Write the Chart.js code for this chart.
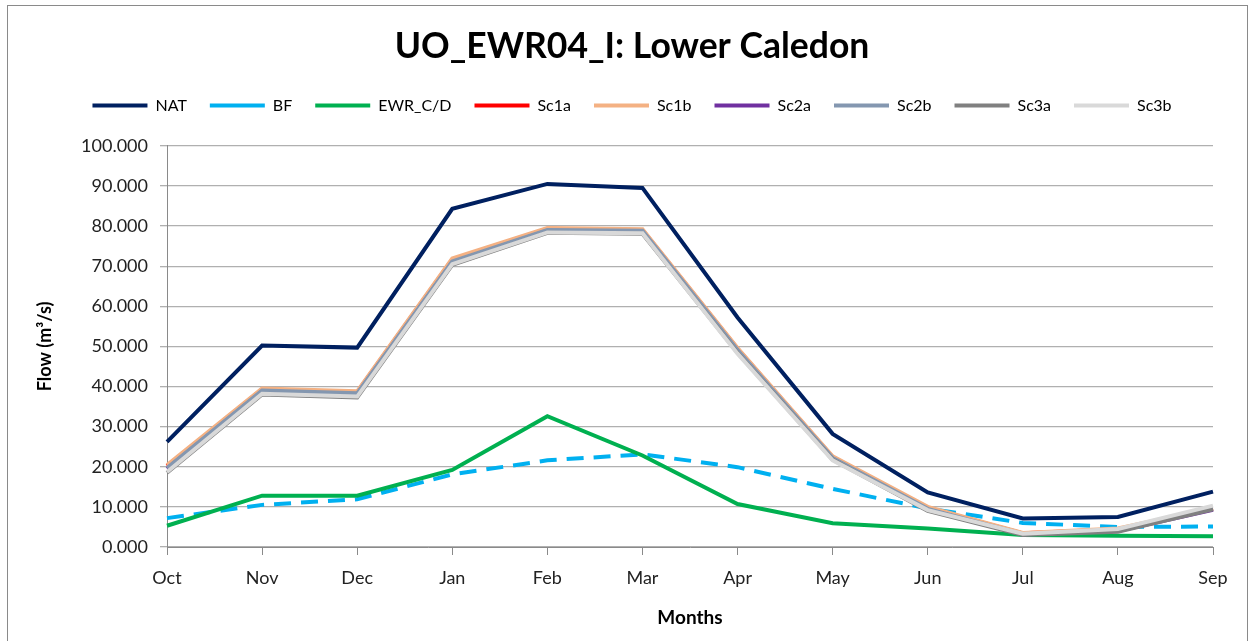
<!DOCTYPE html>
<html>
<head>
<meta charset="utf-8">
<script src="https://cdn.jsdelivr.net/npm/chart.js@4/dist/chart.umd.min.js"></script>
<style>
  html, body { margin: 0; padding: 0; background: #fff; overflow: hidden; }
  #wrap { position: absolute; left: 0; top: 0; width: 1252px; height: 641px; }
  #frame { position: absolute; left: 7px; top: 5px; width: 1241px; height: 700px; border: 1.5px solid #8a8a8a; box-sizing: border-box; pointer-events: none; }
  canvas { position: absolute; left: 0; top: 0; }
</style>
</head>
<body>
<div id="wrap">
  <canvas id="c" width="1252" height="641"></canvas>
  <div id="frame"></div>
</div>
<script>
const months = ['Oct','Nov','Dec','Jan','Feb','Mar','Apr','May','Jun','Jul','Aug','Sep'];
const NAT    = [26.2, 50.2, 49.7, 84.3, 90.5, 89.5, 57.2, 28.2, 13.6, 7.1, 7.5, 13.8];
const BF     = [7.2, 10.5, 11.9, 18.1, 21.6, 23.1, 19.9, 14.5, 9.6, 6.0, 5.0, 5.1];
const EWR_CD = [5.3, 12.8, 12.8, 19.2, 32.6, 22.8, 10.7, 5.9, 4.6, 3.0, 2.8, 2.7];
const Sc1a   = [20.2, 39.3, 38.6, 71.7, 79.3, 79.0, 49.4, 22.4, 9.8, 3.4, 4.4, 9.5];
const Sc1b   = [20.4, 39.5, 38.8, 71.9, 79.5, 79.2, 49.6, 22.6, 10.0, 3.5, 4.6, 9.7];
const Sc2a   = [19.5, 38.8, 38.1, 71.0, 78.8, 78.6, 48.9, 22.0, 9.3, 3.1, 4.0, 9.3];
const Sc2b   = [19.7, 39.0, 38.3, 71.2, 79.0, 78.8, 49.1, 22.2, 9.5, 3.2, 4.2, 9.5];
const Sc3a   = [18.5, 38.0, 37.3, 70.3, 78.3, 78.1, 48.4, 21.8, 9.0, 3.0, 3.8, 9.4];
const Sc3b   = [18.7, 38.2, 37.5, 70.5, 78.4, 78.2, 48.2, 21.6, 9.2, 3.3, 4.5, 10.3];
const yTicks = [0, 10, 20, 30, 40, 50, 60, 70, 80, 90, 100];

const FONT = "Lato, 'Liberation Sans', Arial, sans-serif";

const series = [
  { label: 'NAT',     data: NAT,    color: '#002060' },
  { label: 'BF',      data: BF,     color: '#00B0F0', dash: [17, 10] },
  { label: 'EWR_C/D', data: EWR_CD, color: '#00B050' },
  { label: 'Sc1a',    data: Sc1a,   color: '#FF0000' },
  { label: 'Sc1b',    data: Sc1b,   color: '#F4B183' },
  { label: 'Sc2a',    data: Sc2a,   color: '#7030A0' },
  { label: 'Sc2b',    data: Sc2b,   color: '#8497B0' },
  { label: 'Sc3a',    data: Sc3a,   color: '#808080' },
  { label: 'Sc3b',    data: Sc3b,   color: '#D9D9D9' }
];

const datasets = series.map((s, i) => ({
  label: s.label,
  data: s.data,
  borderColor: s.color,
  backgroundColor: s.color,
  borderWidth: 4,
  borderDash: s.dash || [],
  pointRadius: 0,
  pointHoverRadius: 0,
  tension: 0,
  fill: false,
  yAxisID: 'y',
  order: series.length - i
}));

new Chart(document.getElementById('c'), {
  type: 'line',
  data: { labels: months, datasets },
  options: {
    responsive: false,
    animation: false,
    layout: { padding: { left: 12, right: 0, top: 0, bottom: 0 } },
    plugins: {
      title: {
        display: true,
        text: 'UO_EWR04_I: Lower Caledon',
        color: '#000',
        font: { family: FONT, size: 35.5, weight: 'bold' },
        padding: { top: 25, bottom: 7 }
      },
      subtitle: {
        display: true,
        text: ' ',
        weight: 500,
        font: { size: 1 },
        padding: { top: 0, bottom: 21 }
      },
      legend: {
        display: true,
        position: 'top',
        labels: {
          usePointStyle: true,
          pointStyle: 'line',
          pointStyleWidth: 55,
          boxHeight: 4,
          padding: 23,
          color: '#000',
          font: { family: FONT, size: 16 },
          sort: (a, b) => a.datasetIndex - b.datasetIndex
        }
      },
      tooltip: { enabled: false }
    },
    scales: {
      x: {
        type: 'category',
        offset: false,
        afterFit: (s) => { s.height = 94; },
        grid: { display: true, drawOnChartArea: false, drawTicks: true, tickLength: 8, color: '#8a8a8a' },
        border: { display: true, color: '#8a8a8a', width: 1 },
        ticks: { color: '#222', padding: 12, font: { family: FONT, size: 18 }, maxRotation: 0, autoSkip: false },
        title: { display: true, text: 'Months', color: '#000', font: { family: FONT, size: 19, weight: 'bold' }, padding: { top: 0, bottom: 12 } }
      },
      y: {
        min: 0,
        max: 100,
        position: 'left',
        afterFit: (s) => { s.width = 155; },
        afterBuildTicks: (s) => { s.ticks = yTicks.map(v => ({ value: v })); },
        grid: { color: '#b0b0b0', lineWidth: 1.3, drawTicks: true, tickLength: 7 },
        border: { display: true, color: '#8a8a8a', width: 1 },
        ticks: { color: '#222', padding: 12, font: { family: FONT, size: 18 }, callback: (v) => Number(v).toFixed(3) },
        title: { display: true, text: 'Flow (m³/s)', color: '#000', font: { family: FONT, size: 18, weight: 'bold' }, padding: { top: 22, bottom: 0 } }
      },
      yR: {
        position: 'right',
        min: 0,
        max: 100,
        display: true,
        afterFit: (s) => { s.width = 39; },
        grid: { display: false, drawOnChartArea: false },
        border: { display: false },
        ticks: { display: false }
      }
    }
  }
});
</script>
</body>
</html>
